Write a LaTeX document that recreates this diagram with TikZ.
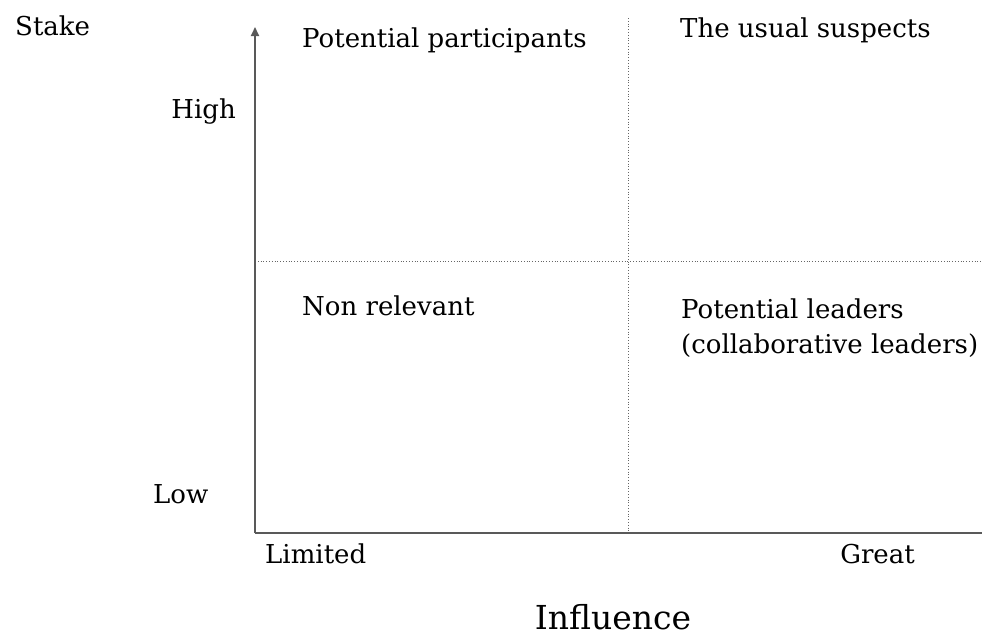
\documentclass[tikz,border=0pt]{standalone}
\usepackage{fontspec}
\setmainfont{DejaVu Serif}
\usetikzlibrary{arrows.meta}
\begin{document}
\begin{tikzpicture}[x=1pt,y=-1pt,
  lbl/.style={anchor=base west,inner sep=0pt,font=\fontsize{26}{32}\selectfont},
  axis/.style={draw=black!65,line width=2pt},
  grid/.style={draw=black!60,line width=0.8pt,dotted}]
\useasboundingbox (0,0) rectangle (982,637);
\coordinate (O) at (255,533);
\coordinate (Ytop) at (255,27);
\coordinate (Xend) at (982,533);
\coordinate (Vtop) at (628,18);
\coordinate (Vbot) at (628,533);
\coordinate (Hl) at (255,261);
\coordinate (Hr) at (982,261);
\draw[grid] (Vtop) -- (Vbot);
\draw[grid] (Hl) -- (Hr);
\draw[axis,-{Triangle[length=9pt,width=8pt]}] (O) -- (Ytop);
\draw[axis] (O) -- (Xend);
\node[lbl] (stake) at (15,35) {Stake};
\node[lbl,anchor=base east] (high) at (236,118) {High};
\node[lbl] (low) at (153,503) {Low};
\node[lbl] (pp) at (302,47) {Potential participants};
\node[lbl] (us) at (680,37) {The usual suspects};
\node[lbl] (nr) at (302,315) {Non relevant};
\node[lbl] (pl) at (681,318) {Potential leaders};
\node[lbl] (cl) at (681,353) {(collaborative leaders)};
\node[lbl] (lim) at (265,563) {Limited};
\node[lbl,anchor=base east] (gr) at (915,563) {Great};
\node[inner sep=0pt,anchor=base,font=\fontsize{33}{40}\selectfont] (inf) at (613,629) {Influence};
\end{tikzpicture}
\end{document}
